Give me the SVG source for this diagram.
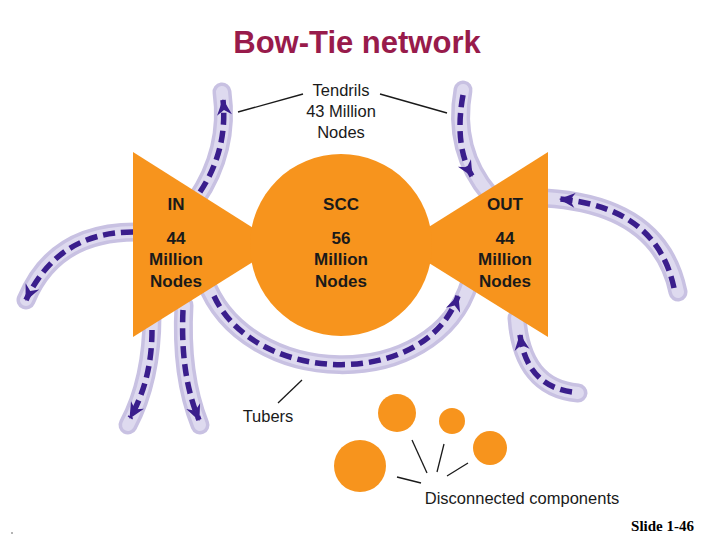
<svg xmlns="http://www.w3.org/2000/svg" width="720" height="540" viewBox="0 0 720 540">
<style>
.tube{fill:none;stroke:#c8c1e2;stroke-width:19;stroke-linecap:round}
.tubein{fill:none;stroke:#dedaef;stroke-width:12;stroke-linecap:round}
.dash{fill:none;stroke:#3a1e8c;stroke-width:5.5;stroke-dasharray:12 6;marker-end:url(#ah)}
.shape{fill:#f7941d}
.lbl{font-family:"Liberation Sans",Arial,sans-serif;font-size:17px;font-weight:bold;fill:#1a1a1a;text-anchor:middle}
.txt{font-family:"Liberation Sans",Arial,sans-serif;font-size:16.5px;fill:#1a1a1a;text-anchor:middle}
.ln{stroke:#1a1a1a;stroke-width:1.3;fill:none}
</style>
<defs>
<marker id="ah" markerUnits="userSpaceOnUse" viewBox="-17 -9 19 18" markerWidth="19" markerHeight="18" refX="0" refY="0" orient="auto">
<path d="M1,0 L-15,-7.5 L-10,0 L-15,7.5 Z" fill="#3a1e8c"/>
</marker>
</defs>
<rect width="720" height="540" fill="#ffffff"/>
<text x="357" y="53" font-family="'Liberation Sans',Arial,sans-serif" font-size="31" font-weight="bold" fill="#981b4b" text-anchor="middle">Bow-Tie network</text>

<g id="connectors">
<path class="tube" d="M196 200 Q230 150 222 92"/><path class="tubein" d="M196 200 Q230 150 222 92"/>
<path class="dash" d="M200 192 Q228 150 223 100"/>
<path class="tube" d="M463 90 Q452 150 490 195"/><path class="tubein" d="M463 90 Q452 150 490 195"/>
<path class="dash" d="M463 95 Q454 145 472 176"/>
<path class="tube" d="M140 232 Q55 230 26 300"/><path class="tubein" d="M140 232 Q55 230 26 300"/>
<path class="dash" d="M133 232 Q58 232 26 300"/>
<path class="tube" d="M152 315 Q152 380 128 425"/><path class="tubein" d="M152 315 Q152 380 128 425"/>
<path class="dash" d="M152 330 Q152 380 130 418"/>
<path class="tube" d="M184 305 Q180 375 200 425"/><path class="tubein" d="M184 305 Q180 375 200 425"/>
<path class="dash" d="M183 310 Q180 375 199 420"/>
<path class="tube" d="M205 280 C245 390 435 395 470 282"/><path class="tubein" d="M205 280 C245 390 435 395 470 282"/>
<path class="dash" d="M214 296 C255 385 425 390 458 296"/>
<path class="tube" d="M678 292 Q660 205 545 198"/><path class="tubein" d="M678 292 Q660 205 545 198"/>
<path class="dash" d="M674 288 Q657 208 560 199"/>
<path class="tube" d="M578 393 Q522 388 517 318"/><path class="tubein" d="M578 393 Q522 388 517 318"/>
<path class="dash" d="M572 392 Q527 386 520 335"/>
<path class="ln" d="M238 112 L303 94"/>
<path class="ln" d="M380 94 L447 113"/>
<path class="ln" d="M278 403 L302 380"/>
<path class="ln" d="M397 477 L421 483"/>
<path class="ln" d="M412 440 L427 473"/>
<path class="ln" d="M444 444 L437 472"/>
<path class="ln" d="M468 463 L447 476"/>
</g>

<g id="in">
<polygon class="shape" points="133,152 133,337 280,245"/>
<text class="lbl" x="176" y="210">IN</text>
<text class="lbl" x="176" y="244">44</text>
<text class="lbl" x="176" y="265">Million</text>
<text class="lbl" x="176" y="287">Nodes</text>
</g>
<g id="out">
<polygon class="shape" points="548,152 548,337 400,245"/>
<text class="lbl" x="505" y="210">OUT</text>
<text class="lbl" x="505" y="244">44</text>
<text class="lbl" x="505" y="265">Million</text>
<text class="lbl" x="505" y="287">Nodes</text>
</g>
<g id="scc">
<circle class="shape" cx="341" cy="245" r="91"/>
<text class="lbl" x="341" y="210">SCC</text>
<text class="lbl" x="341" y="244">56</text>
<text class="lbl" x="341" y="265">Million</text>
<text class="lbl" x="341" y="287">Nodes</text>
</g>
<g id="tendrils">
<text class="txt" x="341" y="96">Tendrils</text>
<text class="txt" x="341" y="117">43 Million</text>
<text class="txt" x="341" y="138">Nodes</text>
</g>
<g id="tubers">
<text class="txt" x="268" y="422">Tubers</text>
</g>
<g id="disconnected">
<circle class="shape" cx="360" cy="466" r="26"/>
<circle class="shape" cx="397" cy="413" r="19"/>
<circle class="shape" cx="452" cy="421" r="13"/>
<circle class="shape" cx="490" cy="448" r="17"/>
<text class="txt" x="522" y="504">Disconnected components</text>
</g>
<text x="694" y="531" font-family="'Liberation Serif','Times New Roman',serif" font-size="15" font-weight="bold" fill="#000" text-anchor="end">Slide 1-46</text>
<circle cx="12" cy="533" r="0.8" fill="#555"/>
</svg>
